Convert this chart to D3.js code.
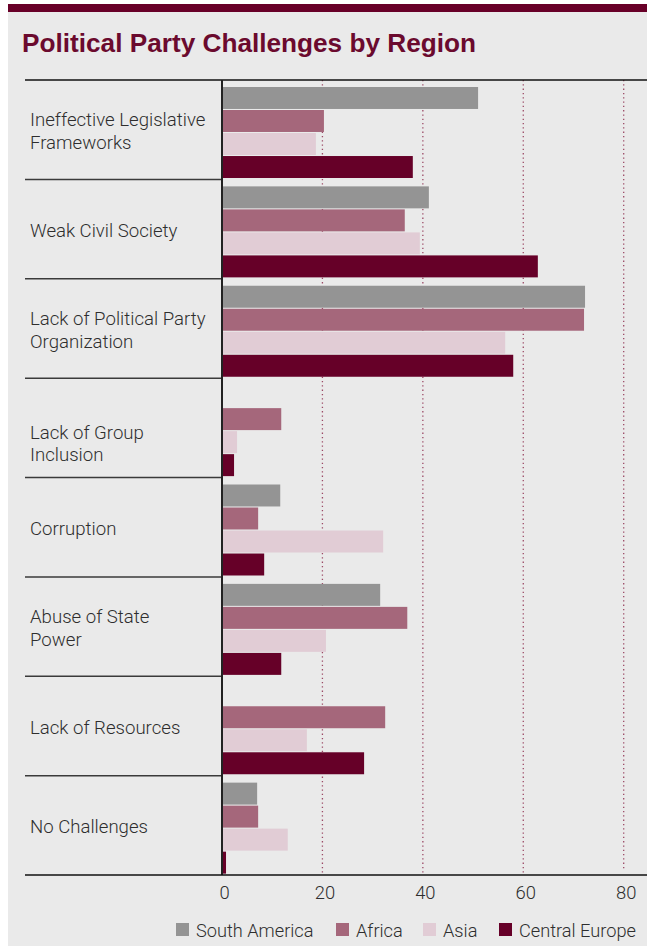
<!DOCTYPE html>
<html>
<head>
<meta charset="utf-8">
<script src="https://cdn.jsdelivr.net/npm/d3@7"></script>
<style>
  html, body { margin: 0; padding: 0; background: #ffffff; }
  svg { display: block; }
</style>
</head>
<body>
<svg id="chart" width="647" height="947"></svg>
<script>
// Challenge categories, top to bottom (line breaks mark label wrapping)
const categories = [
  "Ineffective Legislative\nFrameworks",
  "Weak Civil Society",
  "Lack of Political Party\nOrganization",
  "Lack of Group\nInclusion",
  "Corruption",
  "Abuse of State\nPower",
  "Lack of Resources",
  "No Challenges"
];

const seriesNames = ["South America", "Africa", "Asia", "Central Europe"];

// Share of respondents per region (null = no bar)
const southAmerica  = [51.0, 41.2, 72.3, null, 11.6, 31.5, null, 7.0];
const africa        = [20.3, 36.4, 72.1, 11.8, 7.2, 36.9, 32.5, 7.2];
const asia          = [18.7, 39.4, 56.4, 3.0, 32.1, 20.7, 16.9, 13.1];
const centralEurope = [38.0, 62.9, 58.0, 2.4, 8.4, 11.8, 28.3, 0.8];

const tickValues = [0, 20, 40, 60, 80];

const seriesValues = [southAmerica, africa, asia, centralEurope];
const colors = ["#949494", "#a5677b", "#e1ccd5", "#660028"];

const svg = d3.select("#chart");
const W = 647, H = 947;

// panel background and header band
svg.append("rect").attr("x", 8).attr("y", 4).attr("width", W - 8).attr("height", H - 5)
  .attr("fill", "#eaeaea");
svg.append("rect").attr("x", 8).attr("y", 4).attr("width", W - 8).attr("height", 8)
  .attr("fill", "#680028");

svg.append("text")
  .attr("x", 22).attr("y", 52)
  .attr("fill", "#6b0a2e")
  .attr("font-family", "'Liberation Sans Narrow', 'Arial Narrow', 'Liberation Sans', sans-serif")
  .attr("font-weight", "bold")
  .attr("font-size", 26.2)
  .text("Political Party Challenges by Region");

const plotTop = 80, plotBottom = 875;
const x = d3.scaleLinear().domain([0, 80]).range([222, 623.7]);
const y = d3.scaleBand().domain(categories).range([plotTop, plotBottom]);
const yInner = d3.scaleBand().domain(seriesNames).range([7, 98]).paddingInner(0.045);

// dotted gridlines
svg.append("g").selectAll("line")
  .data(tickValues.filter(d => d > 0))
  .join("line")
  .attr("x1", d => x(d)).attr("x2", d => x(d))
  .attr("y1", plotTop).attr("y2", d => d === 80 ? 869 : plotBottom)
  .attr("stroke", "#9c4a66")
  .attr("stroke-width", 1.3)
  .attr("stroke-dasharray", "1.3,3");

// bars
const rows = [];
categories.forEach((c, i) => {
  seriesNames.forEach((s, j) => {
    const v = seriesValues[j][i];
    if (v !== null) rows.push({ cat: c, series: s, value: v, color: colors[j] });
  });
});

svg.append("g").selectAll("rect")
  .data(rows)
  .join("rect")
  .attr("x", x(0))
  .attr("y", d => y(d.cat) + yInner(d.series))
  .attr("width", d => x(d.value) - x(0))
  .attr("height", yInner.bandwidth())
  .attr("fill", d => d.color);

// category separators
svg.append("g").selectAll("line")
  .data(categories.slice(1))
  .join("line")
  .attr("x1", 25).attr("x2", x(0))
  .attr("y1", d => y(d)).attr("y2", d => y(d))
  .attr("stroke", "#3a3a3a").attr("stroke-width", 1.5);

svg.append("line")
  .attr("x1", 25).attr("x2", W).attr("y1", plotTop).attr("y2", plotTop)
  .attr("stroke", "#111").attr("stroke-width", 1.5);

// category labels (the group-inclusion label sits lower, beside its bars)
const labelFont = "Roboto, 'Liberation Sans', sans-serif";
const lab = svg.append("g").selectAll("text")
  .data(categories)
  .join("text")
  .attr("x", 30)
  .attr("font-family", labelFont)
  .attr("font-weight", 300)
  .attr("font-size", 18.6)
  .attr("fill", "#2e2e2e");
lab.each(function(d, i) {
  const lines = d.split("\n");
  const cy = y(d) + y.bandwidth() / 2 + 8 + (i === 3 ? 14 : 0);
  const lh = 22.5;
  const t = d3.select(this);
  lines.forEach((ln, k) => {
    t.append("tspan")
      .attr("x", 30)
      .attr("y", cy + (k - (lines.length - 1) / 2) * lh)
      .text(ln);
  });
});

// vertical baseline and bottom axis
svg.append("line")
  .attr("x1", x(0)).attr("x2", x(0)).attr("y1", plotTop).attr("y2", plotBottom)
  .attr("stroke", "#222").attr("stroke-width", 2);

const axis = svg.append("g")
  .attr("transform", `translate(0,${plotBottom})`)
  .call(d3.axisBottom(x).tickValues(tickValues).tickSize(0).tickPadding(11));
axis.select(".domain").remove();
axis.selectAll("text")
  .attr("font-family", labelFont)
  .attr("font-weight", 300)
  .attr("font-size", 18.4)
  .attr("fill", "#2e2e2e")
  .attr("dx", 2);

svg.append("line")
  .attr("x1", 25).attr("x2", W).attr("y1", plotBottom).attr("y2", plotBottom)
  .attr("stroke", "#111").attr("stroke-width", 1.5);

// legend
const legendX = [176, 336, 423, 499];
const lg = svg.append("g").selectAll("g")
  .data(seriesNames)
  .join("g")
  .attr("transform", (d, i) => `translate(${legendX[i]},923)`);
lg.append("rect").attr("width", 13).attr("height", 13).attr("fill", (d, i) => colors[i]);
lg.append("text")
  .attr("x", 20).attr("y", 13.5)
  .attr("font-family", labelFont)
  .attr("font-weight", 300)
  .attr("font-size", 18.2)
  .attr("fill", "#2e2e2e")
  .text(d => d);
</script>
</body>
</html>
